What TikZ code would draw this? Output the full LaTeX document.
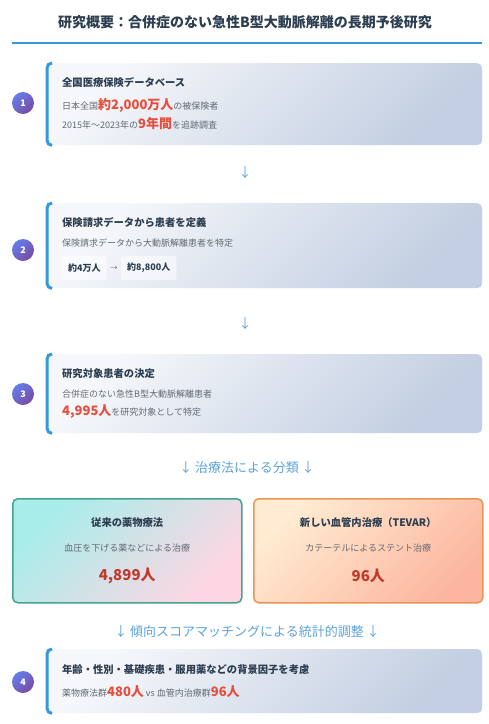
\documentclass[tikz,border=0pt]{standalone}
\usepackage{fontspec}
\setmainfont{Noto Sans CJK JP}
\definecolor{ttlcol}{HTML}{2C3E50}
\definecolor{txtgrey}{HTML}{636A73}
\definecolor{hlred}{HTML}{E74C3C}
\definecolor{dkred}{HTML}{C0392B}
\definecolor{arrblue}{HTML}{5DA3DB}
\definecolor{barblue}{HTML}{3498DB}
\definecolor{boxA}{HTML}{F5F7FA}
\definecolor{boxB}{HTML}{C3CFE2}
\definecolor{badgeA}{HTML}{667EEA}
\definecolor{badgeB}{HTML}{764BA2}
\definecolor{cyanA}{HTML}{A8EDEA}
\definecolor{pinkB}{HTML}{FED6E3}
\definecolor{peachA}{HTML}{FFECD2}
\definecolor{peachB}{HTML}{FCB69F}
\definecolor{tealborder}{HTML}{45A38E}
\definecolor{orangeborder}{HTML}{EC9455}
\tikzset{
  stepbox/.style={rectangle, rounded corners=5pt, top color=boxA, bottom color=boxB, shading angle=45, anchor=north west, inner sep=0pt},
  badge/.style={circle, minimum size=22pt, inner sep=0pt, top color=badgeA, bottom color=badgeB, shading angle=45, text=white, font=\fontsize{9}{10}\selectfont\bfseries},
  btitle/.style={anchor=west, inner sep=0pt, text=ttlcol, font=\fontsize{10.3}{12}\selectfont\bfseries},
  btext/.style={anchor=west, inner sep=0pt, text=txtgrey, font=\fontsize{9}{11}\selectfont},
  downlab/.style={inner sep=0pt, text=arrblue, font=\fontsize{13}{15}\selectfont},
  pill/.style={rectangle, rounded corners=2pt, fill=white, fill opacity=0.5, text opacity=1, text=ttlcol, inner xsep=6pt, minimum height=24pt, font=\fontsize{9}{11}\selectfont\bfseries},
  card/.style={rectangle, rounded corners=5pt, line width=1.5pt, anchor=north west, inner sep=0pt, minimum width=229pt, minimum height=104pt},
  ctitle/.style={inner sep=0pt, text=ttlcol, font=\fontsize{10.3}{12}\selectfont\bfseries},
  ctext/.style={inner sep=0pt, text=txtgrey, font=\fontsize{9}{11}\selectfont},
  cnum/.style={inner sep=0pt, text=dkred, font=\fontsize{15}{17}\selectfont\bfseries},
  leftbar/.style={draw=barblue, line width=3pt}
}
\newcommand{\hl}[1]{{\color{hlred}\fontsize{13}{15}\selectfont\bfseries #1}}
\begin{document}
\begin{tikzpicture}[x=1pt,y=1pt]
\fill[white] (0,0) rectangle (489,-724);
\useasboundingbox (0,0) rectangle (489,-724);

% title
\node[inner sep=0pt, text=ttlcol, font=\fontsize{14}{16}\selectfont\bfseries] (title) at (245,-22) {研究概要：合併症のない急性B型大動脈解離の長期予後研究};
\coordinate (tl) at (12,-43);
\coordinate (tr) at (482,-43);
\draw[barblue, line width=1.5pt] (tl) -- (tr);

% step 1
\node[stepbox, minimum width=435pt, minimum height=82pt] (b1) at (47,-63) {};
\draw[leftbar] ([xshift=5pt]b1.north west) arc[start angle=90,end angle=180,radius=5pt] -- ([yshift=5pt]b1.south west) arc[start angle=180,end angle=270,radius=5pt];
\node[badge] (n1) at (23,-103) {1};
\node[btitle] (t1) at (62,-82) {全国医療保険データベース};
\node[btext] (l1a) at (62,-105) {日本全国\hl{約2,000万人}の被保険者};
\node[btext] (l1b) at (62,-124) {2015年～2023年の\hl{9年間}を追跡調査};

\node[downlab] (a1) at (245,-173) {↓};

% step 2
\node[stepbox, minimum width=435pt, minimum height=85pt] (b2) at (47,-203) {};
\draw[leftbar] ([xshift=5pt]b2.north west) arc[start angle=90,end angle=180,radius=5pt] -- ([yshift=5pt]b2.south west) arc[start angle=180,end angle=270,radius=5pt];
\node[badge] (n2) at (23,-250) {2};
\node[btitle] (t2) at (62,-222) {保険請求データから患者を定義};
\node[btext] (l2a) at (62,-243) {保険請求データから大動脈解離患者を特定};
\node[pill, anchor=west] (p1) at (62,-268) {約4万人};
\node[pill, anchor=west] (p2) at (121,-268) {約8,800人};
\node[inner sep=0pt, text=txtgrey, font=\fontsize{7}{9}\selectfont] (pa) at (114,-268) {→};

\node[downlab] (a2) at (245,-324) {↓};

% step 3
\node[stepbox, minimum width=435pt, minimum height=79pt] (b3) at (47,-354) {};
\draw[leftbar] ([xshift=5pt]b3.north west) arc[start angle=90,end angle=180,radius=5pt] -- ([yshift=5pt]b3.south west) arc[start angle=180,end angle=270,radius=5pt];
\node[badge] (n3) at (23,-394) {3};
\node[btitle] (t3) at (62,-374) {研究対象患者の決定};
\node[btext] (l3a) at (62,-394) {合併症のない急性B型大動脈解離患者};
\node[btext] (l3b) at (62,-412) {\hl{4,995人}を研究対象として特定};

\node[downlab] (c1) at (247,-468) {↓\ 治療法による分類\ ↓};

% treatment cards
\node[card, draw=tealborder, top color=cyanA, bottom color=pinkB, shading angle=45] (cl) at (12,-498) {};
\node[ctitle] (clt) at (cl.center |- 0,-523) {従来の薬物療法};
\node[ctext] (cls) at (cl.center |- 0,-548) {血圧を下げる薬などによる治療};
\node[cnum] (cln) at (cl.center |- 0,-576) {4,899人};

\node[card, draw=orangeborder, top color=peachA, bottom color=peachB, shading angle=45] (cr) at (253,-498) {};
\node[ctitle] (crt) at (cr.center |- 0,-523) {新しい血管内治療（TEVAR）};
\node[ctext] (crs) at (cr.center |- 0,-548) {カテーテルによるステント治療};
\node[cnum] (crn) at (cr.center |- 0,-576) {96人};

\node[downlab] (c2) at (247,-632) {↓\ 傾向スコアマッチングによる統計的調整\ ↓};

% step 4
\node[stepbox, minimum width=435pt, minimum height=64pt] (b4) at (47,-649) {};
\draw[leftbar] ([xshift=5pt]b4.north west) arc[start angle=90,end angle=180,radius=5pt] -- ([yshift=5pt]b4.south west) arc[start angle=180,end angle=270,radius=5pt];
\node[badge] (n4) at (23,-682) {4};
\node[btitle] (t4) at (62,-670) {年齢・性別・基礎疾患・服用薬などの背景因子を考慮};
\node[btext] (l4a) at (62,-692) {薬物療法群\hl{480人} vs 血管内治療群\hl{96人}};
\end{tikzpicture}
\end{document}
